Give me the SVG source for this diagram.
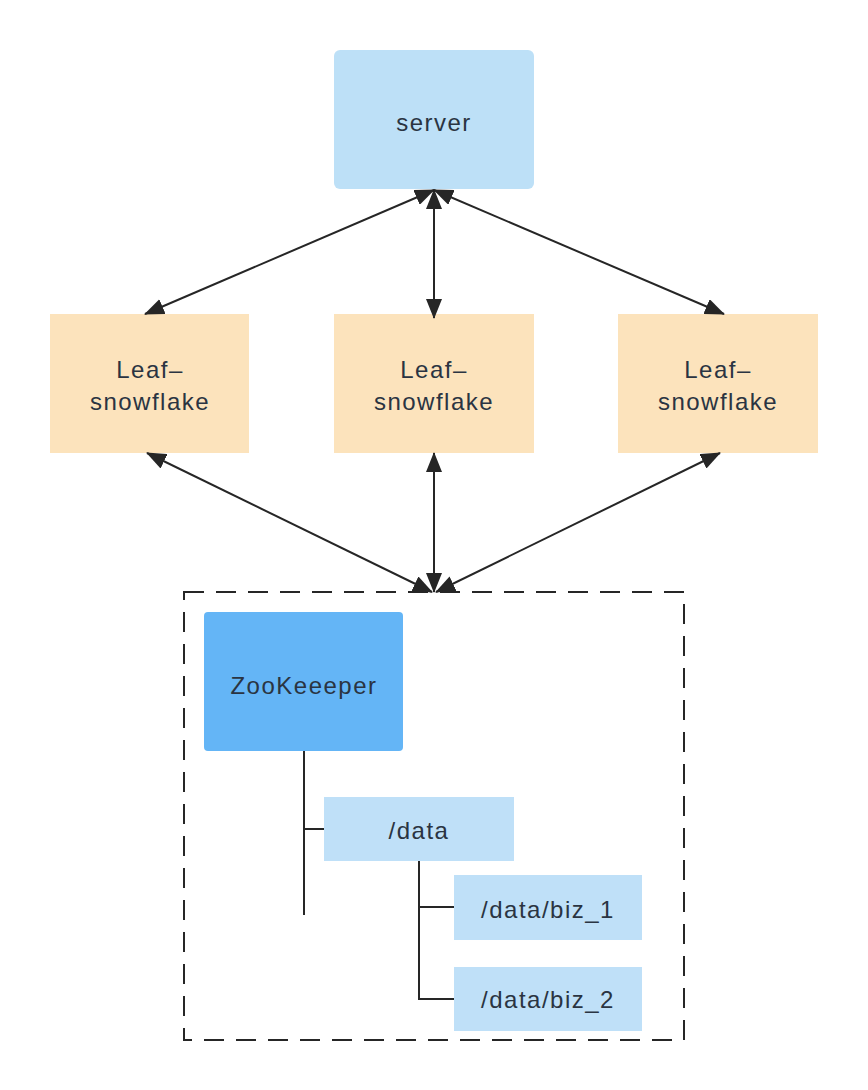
<svg xmlns="http://www.w3.org/2000/svg" width="868" height="1090" viewBox="0 0 868 1090">
<style>
.t{font-family:"Liberation Sans",Arial,sans-serif;font-size:24px;fill:#2a3442;text-anchor:middle;letter-spacing:1.5px}
.c{stroke:#262626;stroke-width:2;fill:none}
.tree{stroke:#262626;stroke-width:2;fill:none}
</style>
<defs>
<marker id="ah" viewBox="0 0 20 16" refX="19" refY="8" markerWidth="20" markerHeight="16" markerUnits="userSpaceOnUse" orient="auto-start-reverse">
<path d="M0,0 L20,8 L0,16 z" fill="#262626"/>
</marker>
</defs>
<rect width="868" height="1090" fill="#ffffff"/>
<g id="server">
<rect x="334" y="50" width="200" height="139" rx="6" fill="#bde0f7"/>
<text class="t" x="434" y="131">server</text>
</g>
<g id="leaf1">
<rect x="50" y="314" width="199" height="139" fill="#fce3bc"/>
<text class="t" x="150" y="378">Leaf–</text>
<text class="t" x="150" y="410">snowflake</text>
</g>
<g id="leaf2">
<rect x="334" y="314" width="200" height="139" fill="#fce3bc"/>
<text class="t" x="434" y="378">Leaf–</text>
<text class="t" x="434" y="410">snowflake</text>
</g>
<g id="leaf3">
<rect x="618" y="314" width="200" height="139" fill="#fce3bc"/>
<text class="t" x="718" y="378">Leaf–</text>
<text class="t" x="718" y="410">snowflake</text>
</g>
<g id="zk-group">
<rect x="184" y="592" width="500" height="448" fill="none" stroke="#262626" stroke-width="2" stroke-dasharray="20,12"/>
</g>
<g id="zookeeper">
<rect x="204" y="612" width="199" height="139" rx="4" fill="#64b5f6"/>
<text class="t" x="304" y="694">ZooKeeeper</text>
</g>
<g id="data">
<rect x="324" y="797" width="190" height="64" fill="#bfe0f8"/>
<text class="t" x="419" y="839">/data</text>
</g>
<g id="biz1">
<rect x="454" y="875" width="188" height="65" fill="#bfe0f8"/>
<text class="t" x="548" y="918">/data/biz_1</text>
</g>
<g id="biz2">
<rect x="454" y="967" width="188" height="64" fill="#bfe0f8"/>
<text class="t" x="548" y="1008">/data/biz_2</text>
</g>
<g id="connectors">
<line class="c" x1="434" y1="190" x2="145" y2="314" marker-start="url(#ah)" marker-end="url(#ah)"/>
<line class="c" x1="434" y1="190" x2="434" y2="318" marker-start="url(#ah)" marker-end="url(#ah)"/>
<line class="c" x1="434" y1="190" x2="724" y2="314" marker-start="url(#ah)" marker-end="url(#ah)"/>
<line class="c" x1="147" y1="453" x2="432" y2="592" marker-start="url(#ah)" marker-end="url(#ah)"/>
<line class="c" x1="434" y1="453" x2="434" y2="592" marker-start="url(#ah)" marker-end="url(#ah)"/>
<line class="c" x1="720" y1="453" x2="436" y2="592" marker-start="url(#ah)" marker-end="url(#ah)"/>
<path class="tree" d="M304,751 V915 M304,829 H324"/>
<path class="tree" d="M419,861 V999 H454 M419,907 H454"/>
</g>
</svg>
